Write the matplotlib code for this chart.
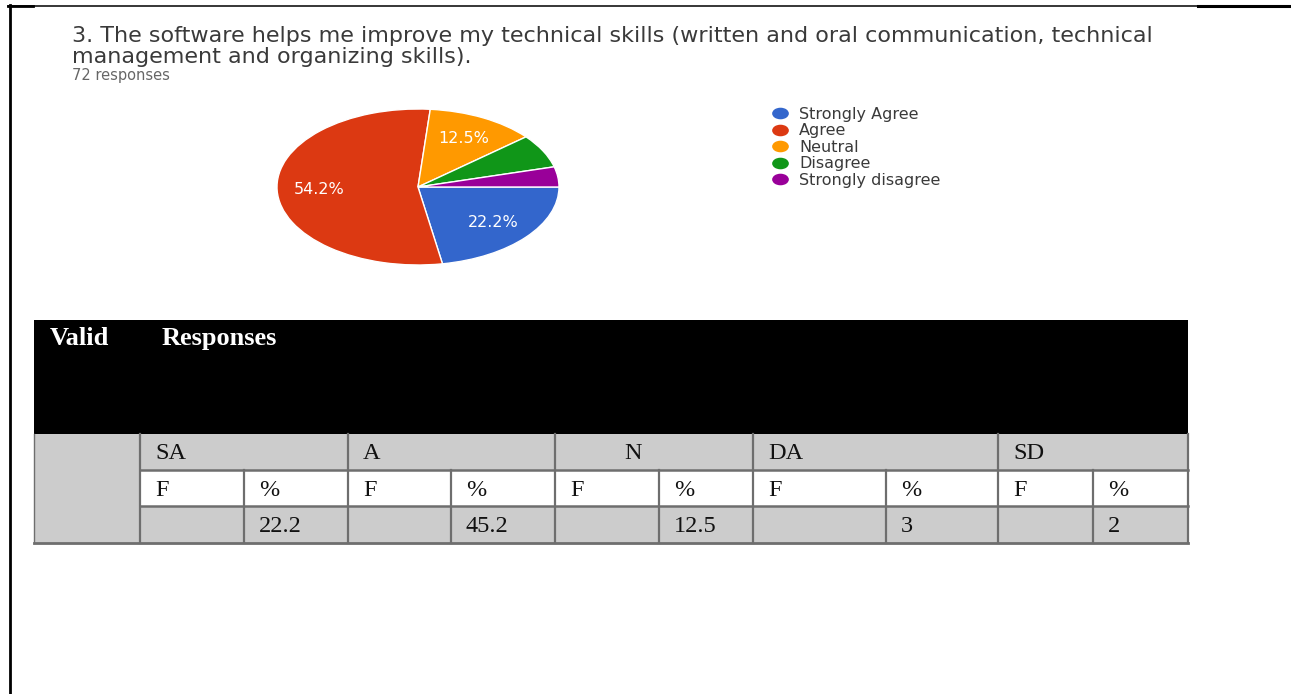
import matplotlib.pyplot as plt
from matplotlib.patches import Rectangle
from matplotlib.lines import Line2D
from matplotlib.path import Path
from matplotlib.transforms import Affine2D

W, H = 1291, 694

question = ["3. The software helps me improve my technical skills (written and oral communication, technical",
            "management and organizing skills)."]
n_responses = 72

answers = ["Strongly Agree", "Agree", "Neutral", "Disagree", "Strongly disagree"]
counts = [16, 39, 9, 5, 3]
colors = ["#3366cc", "#dc3912", "#ff9900", "#109618", "#990099"]

# summary table under the chart
header = ["Valid", "Responses"]
codes = ["SA", "A", "N", "DA", "SD"]
sub_cols = ["F", "%"]
freqs = ["", "", "", "", ""]
percents = ["22.2", "45.2", "12.5", "3", "2"]

fig = plt.figure(figsize=(W / 100, H / 100), dpi=100)

# page axes in pixel units, y pointing down
page = fig.add_axes([0, 0, 1, 1])
page.set_xlim(0, W)
page.set_ylim(H, 0)
page.axis("off")

# page frame
page.plot([8, 1198], [5.5, 5.5], color="black", lw=1.1)
page.plot([8, 33], [5.5, 5.5], color="black", lw=2.0)
page.plot([1198, W], [5.8, 5.8], color="black", lw=2.2)
page.plot([9.5, 9.5], [5, H], color="black", lw=2.0)

# question text
page.text(72, 42, question[0], fontsize=16, color="#3a3a3a", family="DejaVu Sans")
page.text(72, 63, question[1], fontsize=16, color="#3a3a3a", family="DejaVu Sans")
page.text(72, 80, f"{n_responses} responses", fontsize=10.5, color="#666666", family="DejaVu Sans")

# pie, stretched into an ellipse
cx, cy, rx, ry = 418, 187, 141, 78
pie_ax = fig.add_axes([(cx - rx) / W, 1 - (cy + ry) / H, 2 * rx / W, 2 * ry / H])


def pct_label(p):
    return f"{p:.1f}%" if p >= 10 else ""


pie_ax.pie(counts, colors=colors, startangle=0, counterclock=False,
           autopct=pct_label, pctdistance=0.7,
           wedgeprops=dict(edgecolor="white", linewidth=1.0),
           textprops=dict(color="white", fontsize=11.5, family="DejaVu Sans"))
pie_ax.set_aspect("auto")
pie_ax.set_xlim(-1, 1)
pie_ax.set_ylim(-1, 1)
pie_ax.axis("off")

ellipse = Path.unit_circle().transformed(Affine2D().scale(1.5, 1.0))
handles = [Line2D([], [], linestyle="none", marker=ellipse, markersize=11,
                  markerfacecolor=c, markeredgecolor=c) for c in colors]
fig.legend(handles, answers, loc="upper left", bbox_to_anchor=(772 / W, 1 - 107 / H),
           frameon=False, borderpad=0, borderaxespad=0, handlelength=1.0,
           handletextpad=0.7, labelspacing=0.09,
           prop=dict(family="DejaVu Sans", size=11.5), labelcolor="#3a3a3a")

# table
col_x = [34, 140, 244, 348, 451, 555, 659, 753, 886, 998, 1093, 1188]
row_y = [320, 434, 470, 506, 543]
grey = "#cccccc"
rule = "#6e6e6e"

page.add_patch(Rectangle((col_x[0], row_y[0]), col_x[-1] - col_x[0], row_y[1] - row_y[0],
                         color="black", lw=0))
page.add_patch(Rectangle((col_x[0], row_y[1]), col_x[-1] - col_x[0], row_y[4] - row_y[1],
                         facecolor=grey, lw=0))
page.add_patch(Rectangle((col_x[1], row_y[2]), col_x[-1] - col_x[1], row_y[3] - row_y[2],
                         facecolor="white", lw=0))

for y in row_y[2:4]:
    page.plot([col_x[1], col_x[-1]], [y, y], color=rule, lw=1.8)
page.plot([col_x[0], col_x[-1]], [row_y[4], row_y[4]], color=rule, lw=2.0)
page.plot([col_x[0], col_x[0]], [row_y[1], row_y[4]], color=rule, lw=1.0)
for i, x in enumerate(col_x[1:], start=1):
    top = row_y[1] if i % 2 == 1 else row_y[2]
    page.plot([x, x], [top, row_y[4]], color=rule, lw=1.6)

serif = "Liberation Serif"
page.text(50, 345, header[0], fontsize=19, fontweight="bold", color="white", family=serif)
page.text(162, 345, header[1], fontsize=19, fontweight="bold", color="white", family=serif)

pad = 15
for i, code in enumerate(codes):
    left, mid = col_x[1 + 2 * i], col_x[2 + 2 * i]
    if code == "N":
        page.text(633, 459, code, fontsize=17.5, family=serif, ha="center", color="#111111")
    else:
        page.text(left + pad, 459, code, fontsize=17.5, family=serif, color="#111111")
    page.text(left + pad, 496, sub_cols[0], fontsize=17.5, family=serif, color="#111111")
    page.text(mid + pad, 496, sub_cols[1], fontsize=17.5, family=serif, color="#111111")
    page.text(left + pad, 532, freqs[i], fontsize=17.5, family=serif, color="#111111")
    page.text(mid + pad, 532, percents[i], fontsize=17.5, family=serif, color="#111111")

fig.savefig("out.png", dpi=100)
